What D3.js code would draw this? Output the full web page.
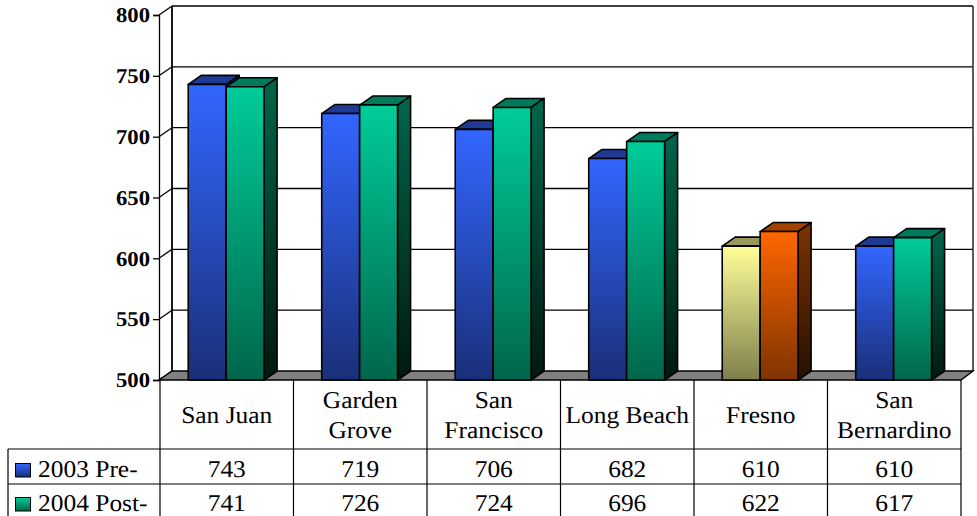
<!DOCTYPE html>
<html>
<head>
<meta charset="utf-8">
<script src="https://cdn.jsdelivr.net/npm/d3@7/dist/d3.min.js"></script>
<style>
html,body{margin:0;padding:0;background:#fff;overflow:hidden}
svg{display:block}
text{font-family:"Liberation Serif","Times New Roman",serif;fill:#000;text-rendering:geometricPrecision}
</style>
</head>
<body>
<svg id="chart" width="977" height="516"></svg>
<script>
// Chart values
const categories = ["San Juan", "Garden Grove", "San Francisco", "Long Beach", "Fresno", "San Bernardino"];
const categoryLines = [["San Juan"], ["Garden", "Grove"], ["San", "Francisco"], ["Long Beach"], ["Fresno"], ["San", "Bernardino"]];
const seriesNames = ["2003 Pre-", "2004 Post-"];
const values2003 = [743, 719, 706, 682, 610, 610];
const values2004 = [741, 726, 724, 696, 622, 617];
const tickValues = [500, 550, 600, 650, 700, 750, 800];

// Colours: [front top, front bottom, side top, side bottom, cap]
const blue = ["#3366ff", "#192f78", "#192f78", "#0b1538", "#1f3a94"];
const green = ["#00cc99", "#00664c", "#00664c", "#00190f", "#007a5c"];
const yellow = ["#ffff99", "#7f7f4c", "#7f7f4c", "#3a3a22", "#99995c"];
const orange = ["#ff6600", "#7f3300", "#7f3300", "#261000", "#a34100"];
const highlightCategory = "Fresno";

const seriesValues = [values2003, values2004];
const seriesColours = [blue, green];
const highlightColours = [yellow, orange];

const svg = d3.select("#chart");
const depthX = 13, depthY = -9;
const TEXT_STRETCH = 1.06;

const y = d3.scaleLinear().domain([500, 800]).range([380, 15]);
const x = d3.scaleBand().domain(categories).range([160, 961]);
const xInner = d3.scaleBand().domain([0, 1]).range([-0.6, x.bandwidth() - 0.6]).paddingInner(0).paddingOuter(0.76);

// Vertical gradients for every colour set
const defs = svg.append("defs");
function addGradient(id, top, bottom) {
  const g = defs.append("linearGradient").attr("id", id).attr("x1", 0).attr("y1", 0).attr("x2", 0).attr("y2", 1);
  g.append("stop").attr("offset", "0%").attr("stop-color", top);
  g.append("stop").attr("offset", "100%").attr("stop-color", bottom);
}
const palettes = { blue, green, yellow, orange };
Object.entries(palettes).forEach(([name, c]) => {
  addGradient(name + "-front", c[0], c[1]);
  addGradient(name + "-side", c[2], c[3]);
});
const paletteName = c => Object.keys(palettes).find(k => palettes[k] === c);

// Back wall and gridlines
const xLeft = x.range()[0] - 1, xRight = x.range()[1];
const wall = svg.append("g");
wall.append("g").selectAll("line").data(tickValues.slice(1)).join("line")
  .attr("x1", xLeft + depthX).attr("x2", xRight + 12)
  .attr("y1", d => y(d) + depthY).attr("y2", d => y(d) + depthY)
  .attr("stroke", "#000").attr("stroke-width", 1.3);
wall.append("g").selectAll("line").data(tickValues).join("line")
  .attr("x1", xLeft).attr("x2", xLeft + depthX)
  .attr("y1", d => y(d)).attr("y2", d => y(d) + depthY)
  .attr("stroke", "#000").attr("stroke-width", 1.3);
wall.append("line").attr("x1", xLeft + depthX).attr("x2", xLeft + depthX)
  .attr("y1", y(800) + depthY).attr("y2", y(500) + depthY)
  .attr("stroke", "#000").attr("stroke-width", 1.8);
wall.append("line").attr("x1", xRight + 12).attr("x2", xRight + 12)
  .attr("y1", y(800) + depthY).attr("y2", y(500) + depthY)
  .attr("stroke", "#333").attr("stroke-width", 1.6);

// Floor
const floorPath = d3.path();
floorPath.moveTo(xLeft, y(500));
floorPath.lineTo(xLeft + depthX, y(500) + depthY);
floorPath.lineTo(xRight + 12, y(500) + depthY);
floorPath.lineTo(xRight, y(500));
floorPath.closePath();
svg.append("path").attr("d", floorPath.toString())
  .attr("fill", "#808080").attr("stroke", "#000").attr("stroke-width", 1.4);

// 3D bars
const bars = svg.append("g");
categories.forEach((cat, i) => {
  seriesValues.forEach((vals, s) => {
    const colours = cat === highlightCategory ? highlightColours[s] : seriesColours[s];
    const name = paletteName(colours);
    const x0 = x(cat) + xInner(s);
    const w = xInner.bandwidth();
    const yTop = y(vals[i]), yBase = y(500);
    const g = bars.append("g").attr("stroke", "#000").attr("stroke-width", 1.6).attr("stroke-linejoin", "round");
    const cap = d3.path();
    cap.moveTo(x0, yTop); cap.lineTo(x0 + depthX, yTop + depthY);
    cap.lineTo(x0 + w + depthX, yTop + depthY); cap.lineTo(x0 + w, yTop); cap.closePath();
    g.append("path").attr("d", cap.toString()).attr("fill", colours[4]);
    const side = d3.path();
    side.moveTo(x0 + w, yTop); side.lineTo(x0 + w + depthX, yTop + depthY);
    side.lineTo(x0 + w + depthX, yBase + depthY); side.lineTo(x0 + w, yBase); side.closePath();
    g.append("path").attr("d", side.toString()).attr("fill", `url(#${name}-side)`);
    g.append("rect").attr("x", x0).attr("y", yTop).attr("width", w).attr("height", yBase - yTop)
      .attr("fill", `url(#${name}-front)`);
  });
});

// Value axis
const axis = svg.append("g").attr("transform", `translate(${xLeft},0)`)
  .call(d3.axisLeft(y).tickValues(tickValues).tickSize(6).tickFormat(d3.format("d")));
axis.selectAll("path,line").attr("stroke", "#000").attr("stroke-width", 1.3);
axis.selectAll("text")
  .attr("x", 0).attr("dy", "0.32em")
  .attr("transform", "translate(-9,0) scale(1.08,1)")
  .style("font-family", '"Liberation Serif",serif')
  .style("font-size", "21px").style("font-weight", "bold");

// Data table under the plot
const rowTops = [380, 449, 484, 520];
const legendLeft = 8;
const table = svg.append("g").attr("stroke", "#000").attr("stroke-width", 1.2);
const colEdges = categories.map(c => x(c)).concat(x.range()[1]);
table.selectAll("line.col").data(colEdges).join("line").attr("class", "col")
  .attr("x1", d => d).attr("x2", d => d).attr("y1", rowTops[0]).attr("y2", rowTops[3]);
[1, 2].forEach(r => table.append("line")
  .attr("x1", legendLeft).attr("x2", xRight).attr("y1", rowTops[r]).attr("y2", rowTops[r]));
table.append("line").attr("x1", legendLeft).attr("x2", legendLeft).attr("y1", rowTops[1]).attr("y2", rowTops[3]);

function putText(px, py, str, size, anchor) {
  svg.append("text")
    .attr("transform", `translate(${px},${py}) scale(${TEXT_STRETCH},1)`)
    .attr("text-anchor", anchor).attr("font-size", size).text(str);
}

// Category headings
categories.forEach((cat, i) => {
  const cx = x(cat) + x.bandwidth() / 2;
  const lines = categoryLines[i];
  const first = 423 - (lines.length - 1) * 15;
  lines.forEach((ln, k) => putText(cx, first + k * 30, ln, 24, "middle"));
});

// Value rows and series keys
seriesValues.forEach((vals, s) => {
  const base = [477, 511][s];
  vals.forEach((v, i) => putText(x(categories[i]) + x.bandwidth() / 2, base, v, 24, "middle"));
  putText(38, base, seriesNames[s], 24, "start");
  svg.append("rect").attr("x", 15.5).attr("y", base - 13.5).attr("width", 15).attr("height", 13.5)
    .attr("fill", `url(#${paletteName(seriesColours[s])}-front)`)
    .attr("stroke", "#000").attr("stroke-width", 1);
});
</script>
</body>
</html>
